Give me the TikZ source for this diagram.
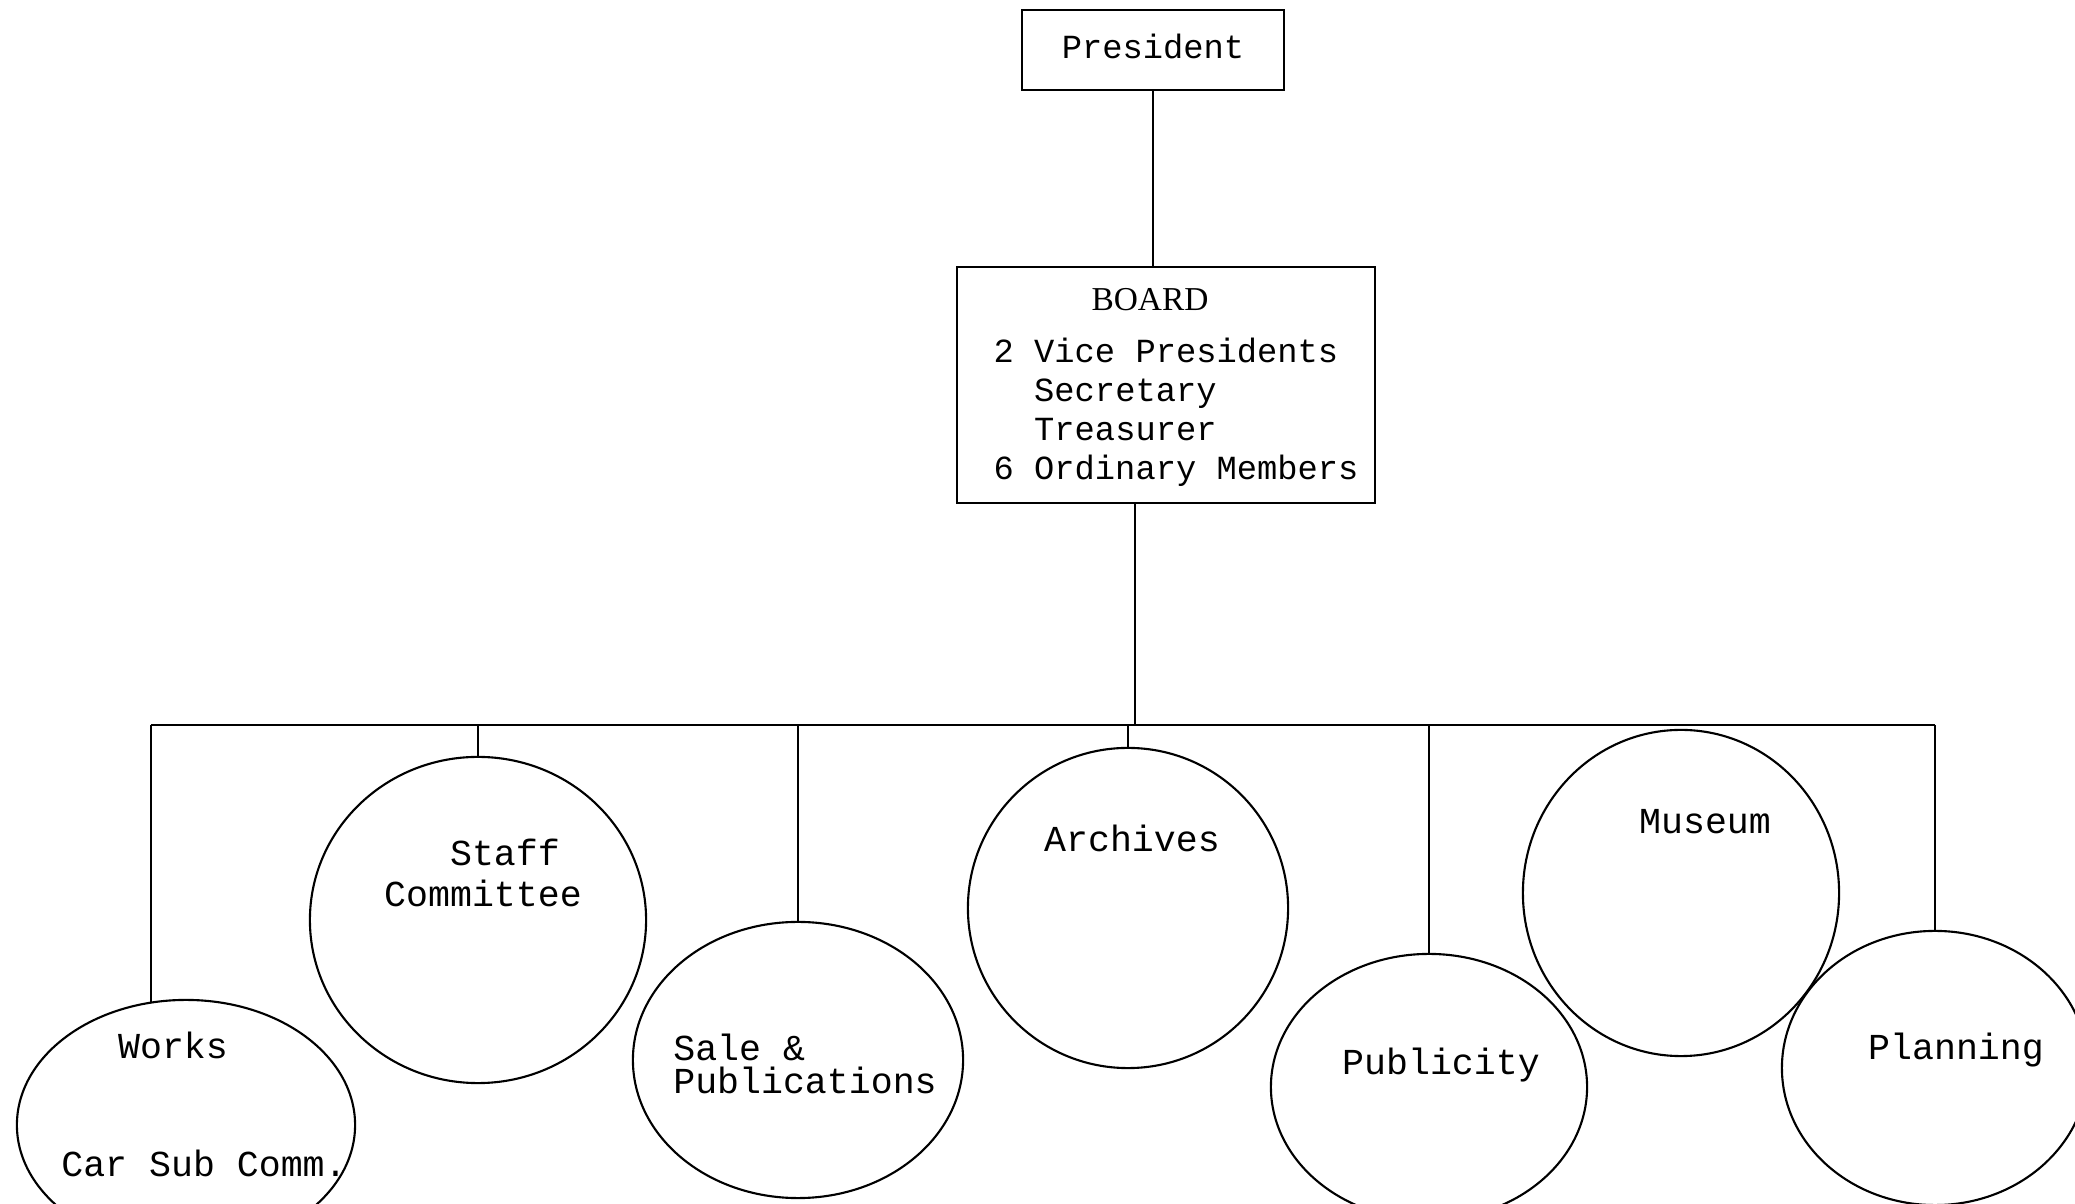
\documentclass[tikz,border=0pt]{standalone}
\usepackage{fontspec}
\setmonofont{Liberation Mono}
\newfontfamily\boardfont{Liberation Serif}
\usetikzlibrary{shapes.geometric}
\usetikzlibrary{calc}

\tikzset{
  box/.style={draw, line width=0.7pt, inner sep=0pt},
  unit/.style={draw, ellipse, line width=0.6pt, inner sep=0pt, outer sep=0pt},
  tw/.style={font=\ttfamily\fontsize{10.4}{11.6}\selectfont},
  twsmall/.style={font=\ttfamily\fontsize{9.6}{11.1}\selectfont},
  link/.style={line width=0.6pt}
}

\begin{document}
\begin{tikzpicture}[x=0.01cm, y=-0.01cm]
\useasboundingbox (0,0) rectangle (2075,1204);
% president and board
\node[box, twsmall, minimum width=2.62cm, minimum height=0.80cm, text depth=0.08cm] (president) at (1153,50) {President};
\node[box, minimum width=4.18cm, minimum height=2.36cm] (board) at (1166,385) {};
\node[font=\boardfont\fontsize{9.5}{11}\selectfont] (boardtitle) at (1150,300) {BOARD};
\node[twsmall, anchor=west, align=left, inner sep=0pt] (boardlist) at (993,412) {2 Vice Presidents\\\phantom{22}Secretary\\\phantom{22}Treasurer\\6 Ordinary Members};
% committees
\node[unit, minimum width=3.38cm, minimum height=2.50cm] (works) at (186,1125) {};
\node[unit, minimum width=3.36cm, minimum height=3.26cm] (staff) at (478,920) {};
\node[unit, minimum width=3.30cm, minimum height=2.76cm] (sale) at (798,1060) {};
\node[unit, minimum width=3.20cm, minimum height=3.20cm] (archives) at (1128,908) {};
\node[unit, minimum width=3.16cm, minimum height=2.66cm] (publicity) at (1429,1087) {};
\node[unit, minimum width=3.16cm, minimum height=3.26cm] (museum) at (1681,893) {};
\node[unit, minimum width=3.06cm, minimum height=2.74cm] (planning) at (1935,1068) {};
% labels
\node[tw] (workstext) at (173,1045) {Works};
\node[tw] (cartext) at (204,1163) {Car Sub Comm.};
\node[tw, align=left] (stafftext) at (483,873) {\phantom{xxx}Staff\\Committee};
\node[tw, align=left, font=\ttfamily\fontsize{10.4}{9.2}\selectfont] (saletext) at (805,1064) {Sale \&\\Publications};
\node[tw] (archivestext) at (1132,838) {Archives};
\node[tw] (museumtext) at (1705,822) {Museum};
\node[tw] (publicitytext) at (1441,1065) {Publicity};
\node[tw] (planningtext) at (1956,1050) {Planning};
% lines
\coordinate (hub) at (1135,725);
\draw[link] (president.south) -- (president.south |- board.north);
\draw[link] (hub |- board.south) -- (hub);
\draw[link] (works.106 |- hub) -- (planning.north |- hub);
\draw[link] (works.106 |- hub) -- (works.106);
\draw[link] (staff.north |- hub) -- (staff.north);
\draw[link] (sale.north |- hub) -- (sale.north);
\draw[link] (archives.north |- hub) -- (archives.north);
\draw[link] (publicity.north |- hub) -- (publicity.north);
\draw[link] (planning.north |- hub) -- (planning.north);
\end{tikzpicture}
\end{document}
